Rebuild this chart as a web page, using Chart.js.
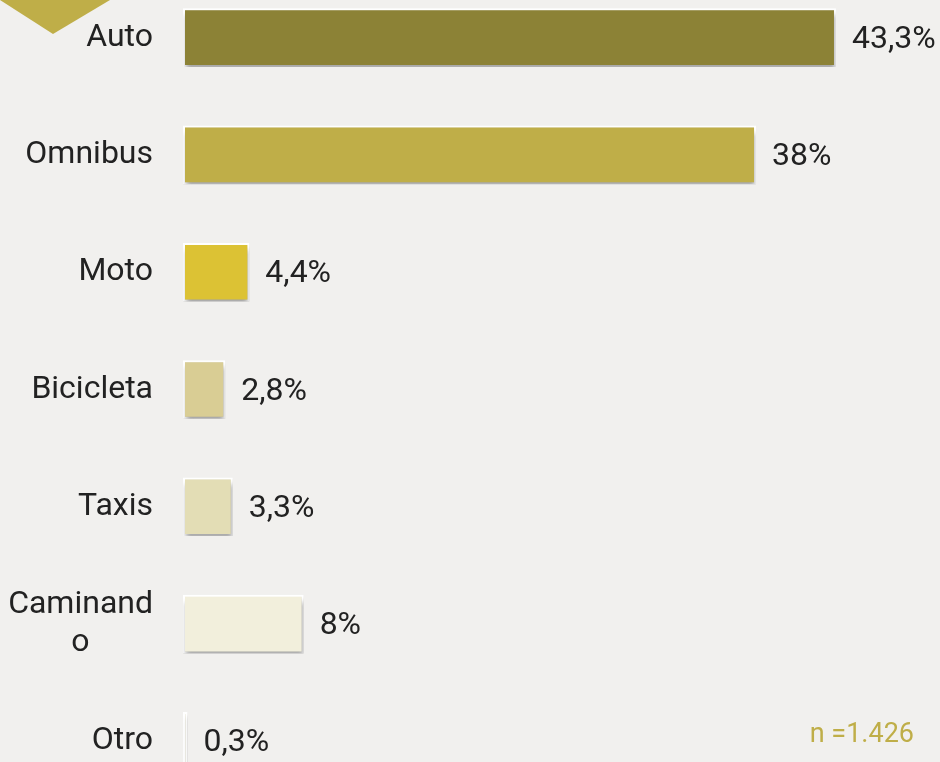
<!DOCTYPE html>
<html>
<head>
<meta charset="utf-8">
<script src="https://cdn.jsdelivr.net/npm/chart.js@4.4.0/dist/chart.umd.min.js"></script>
<style>
  body { margin: 0; background: #f1f0ee; overflow: hidden; }
  #wrap { width: 940px; height: 762px; position: relative; overflow: hidden; }
  #modeChart { position: absolute; left: 0; top: -21px; }
</style>
</head>
<body>
<div id="wrap"><canvas id="modeChart" width="940" height="821"></canvas></div>
<script>
// Data
// second line of "Caminando" sits centred under the first, so pad it with spaces
const categories = ['Auto', 'Omnibus', 'Moto', 'Bicicleta', 'Taxis', ['Caminand', 'o        '], 'Otro'];
const shares = [43.3, 38, 4.4, 2.8, 3.3, 8, 0.3];
const barColors = ['#8c8236', '#bfae48', '#dcc234', '#d9cd94', '#e3ddb5', '#f2efdc', '#f3f1e2'];
const sampleNote = 'n =1.426';

const FONT = 'Roboto, "DejaVu Sans", sans-serif';
const SHIFT = 21; // canvas sits 21px above the page top

// shadow under the bars
const shadowPlugin = {
    id: 'barShadow',
    beforeDatasetsDraw(chart) {
        const c = chart.ctx;
        c.save();
        c.shadowColor = 'rgba(0, 0, 0, 0.35)';
        c.shadowBlur = 5;
        c.shadowOffsetX = 1;
        c.shadowOffsetY = 5;
    },
    afterDatasetsDraw(chart) {
        chart.ctx.restore();
    }
};

// value labels, triangle and sample size note
const labelsPlugin = {
    id: 'valueLabels',
    afterDraw(chart) {
        const c = chart.ctx;
        const meta = chart.getDatasetMeta(0);
        c.save();
        c.font = '32px ' + FONT;
        c.fillStyle = '#222';
        c.textAlign = 'left';
        c.textBaseline = 'middle';
        meta.data.forEach(function(bar, i) {
            const txt = String(shares[i]).replace('.', ',') + '%';
            c.fillText(txt, bar.x + 16, bar.y + 2);
        });

        // decorative triangle top-left
        c.fillStyle = '#bfae48';
        c.beginPath();
        c.moveTo(0, SHIFT);
        c.lineTo(110, SHIFT);
        c.lineTo(53, SHIFT + 34);
        c.closePath();
        c.fill();

        c.font = '27px ' + FONT;
        c.fillStyle = '#bfae48';
        c.textAlign = 'right';
        c.fillText(sampleNote, 914, SHIFT + 735);
        c.restore();
    }
};

const ctx = document.getElementById('modeChart').getContext('2d');
const modeChart = new Chart(ctx, {
    type: 'bar',
    data: {
        labels: categories,
        datasets: [{
            data: shares,
            backgroundColor: barColors,
            borderColor: '#ffffff',
            borderWidth: 2,
            borderSkipped: false,
            barPercentage: 0.5,
            categoryPercentage: 1
        }]
    },
    options: {
        indexAxis: 'y',
        responsive: false,
        animation: false,
        layout: {
            padding: { top: 0, bottom: 0, left: 0, right: 3 }
        },
        plugins: {
            legend: { display: false },
            tooltip: { enabled: false }
        },
        scales: {
            x: {
                display: false,
                min: 0,
                max: 50
            },
            y: {
                grid: { display: false, drawTicks: false },
                border: { display: false },
                ticks: {
                    padding: 30,
                    color: '#222',
                    font: { family: FONT, size: 32, lineHeight: 1.2 }
                },
                afterFit: function(scale) {
                    scale.width = 183;
                    // don't let the labels push the chart area in
                    scale.paddingTop = 0;
                    scale.paddingBottom = 0;
                }
            }
        }
    },
    plugins: [shadowPlugin, labelsPlugin]
});
</script>
</body>
</html>
